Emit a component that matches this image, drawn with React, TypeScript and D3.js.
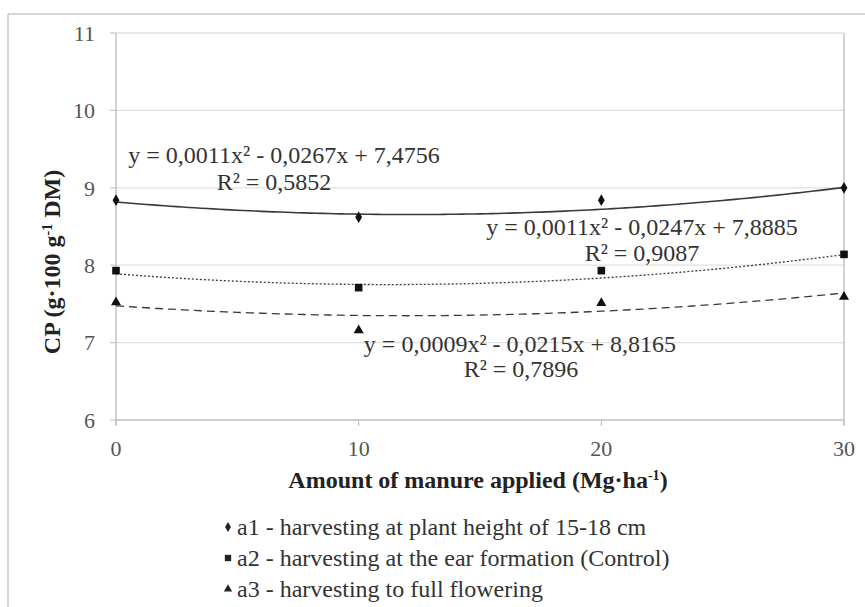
import React from "react";
import * as d3 from "d3";

const doses = [0, 10, 20, 30];
const a1Values = [8.84, 8.62, 8.84, 9.0];
const a2Values = [7.93, 7.71, 7.93, 8.14];
const a3Values = [7.52, 7.16, 7.51, 7.59];
// quadratic trend coefficients [a, b, c] for y = a x^2 + b x + c
const a1Trend = [0.0011, -0.0267, 8.8165];
const a2Trend = [0.0011, -0.0247, 7.8885];
const a3Trend = [0.0009, -0.0215, 7.4756];
const yTicks = [6, 7, 8, 9, 10, 11];
const xTicks = [0, 10, 20, 30];
const eqLabels = [
  ["y = 0,0011x² - 0,0267x + 7,4756", "R² = 0,5852"],
  ["y = 0,0011x² - 0,0247x + 7,8885", "R² = 0,9087"],
  ["y = 0,0009x² - 0,0215x + 8,8165", "R² = 0,7896"],
];
const legendLabels = [
  "a1 - harvesting at plant height of 15-18 cm",
  "a2 - harvesting at the ear formation (Control)",
  "a3 - harvesting to full flowering",
];

const W = 865;
const H = 607;
const L = 116, R = 844, T = 33, B = 420;
const FONT = "Liberation Serif";

export default function App() {
  const x = d3.scaleLinear().domain([0, 30]).range([L, R]);
  const y = d3.scaleLinear().domain([6, 11]).range([B, T]);

  const trendPts = d3.range(0, 30.001, 0.25);
  const trendPath = (c: number[]) =>
    d3
      .line<number>()
      .x((d) => x(d))
      .y((d) => y(c[0] * d * d + c[1] * d + c[2]))
      .curve(d3.curveLinear)(trendPts) as string;

  const diamond = d3.symbol().type(d3.symbolDiamond).size(40)() as string;
  const square = d3.symbol().type(d3.symbolSquare).size(58)() as string;
  const triangle = d3.symbol().type(d3.symbolTriangle).size(44)() as string;
  const diamondS = d3.symbol().type(d3.symbolDiamond).size(30)() as string;
  const squareS = d3.symbol().type(d3.symbolSquare).size(40)() as string;
  const triangleS = d3.symbol().type(d3.symbolTriangle).size(30)() as string;

  const series = [
    { vals: a1Values, trend: a1Trend, sym: diamond, symS: diamondS, dash: undefined, width: 1.6 },
    { vals: a2Values, trend: a2Trend, sym: square, symS: squareS, dash: "2,2", width: 1.3 },
    { vals: a3Values, trend: a3Trend, sym: triangle, symS: triangleS, dash: "8,5", width: 1.3 },
  ];

  const eqPos = [
    { x: 284, y: 155, rx: 274, ry: 182 },
    { x: 642, y: 227, rx: 642, ry: 253 },
    { x: 520, y: 344, rx: 521, ry: 369 },
  ];

  return (
    <svg
      width={W}
      height={H}
      style={{ position: "absolute", left: 0, top: 0, background: "#fff", fontFamily: FONT }}
    >
      {/* outer frame */}
      <line x1={8} x2={W} y1={14} y2={14} stroke="#c8c8c8" strokeWidth={1.5} />
      <line x1={8} x2={8} y1={14} y2={H} stroke="#c8c8c8" strokeWidth={1.5} />

      {/* grid */}
      {yTicks.map((t) => (
        <g key={"g" + t}>
          <line x1={L} x2={R} y1={y(t)} y2={y(t)} stroke="#e0e0e0" strokeWidth={1.3} />
          <line x1={L - 6} x2={L} y1={y(t)} y2={y(t)} stroke="#c8c8c8" strokeWidth={1.2} />
          <text x={95} y={y(t)} dy="0.35em" textAnchor="end" fontSize={22} fill="#555">
            {t}
          </text>
        </g>
      ))}
      <line x1={L} x2={L} y1={T} y2={B + 6} stroke="#c4c4c4" strokeWidth={1.5} />
      <line x1={R} x2={R} y1={T} y2={B + 6} stroke="#c4c4c4" strokeWidth={1.5} />
      <line x1={L} x2={R} y1={B} y2={B} stroke="#c4c4c4" strokeWidth={1.5} />
      {xTicks.map((t) => (
        <g key={"x" + t}>
          <line x1={x(t)} x2={x(t)} y1={B} y2={B + 6} stroke="#c4c4c4" strokeWidth={1.2} />
          <text x={x(t)} y={448} dy="0.35em" textAnchor="middle" fontSize={22} fill="#555">
            {t}
          </text>
        </g>
      ))}

      {/* trend lines */}
      {series.map((s, i) => (
        <path
          key={"t" + i}
          d={trendPath(s.trend)}
          fill="none"
          stroke="#3a3a3a"
          strokeWidth={s.width}
          strokeDasharray={s.dash}
        />
      ))}

      {/* points */}
      {series.map((s, i) =>
        s.vals.map((v, j) => (
          <path
            key={"p" + i + "-" + j}
            d={s.sym}
            transform={`translate(${x(doses[j])},${y(v)})`}
            fill="#111"
          />
        ))
      )}

      {/* equations */}
      {eqLabels.map((e, i) => (
        <g key={"e" + i} fontSize={24} fill="#333">
          <text x={eqPos[i].x} y={eqPos[i].y} dy="0.35em" textAnchor="middle">
            {e[0]}
          </text>
          <text x={eqPos[i].rx} y={eqPos[i].ry} dy="0.35em" textAnchor="middle">
            {e[1]}
          </text>
        </g>
      ))}

      {/* axis titles */}
      <text x={478} y={480} dy="0.35em" textAnchor="middle" fontSize={24} fontWeight="bold" fill="#222">
        Amount of manure applied (Mg·ha
        <tspan dy="-8" fontSize={14}>-1</tspan>
        <tspan dy="8">)</tspan>
      </text>
      <text
        transform={`translate(52,262) rotate(-90)`}
        textAnchor="middle"
        dy="0.35em"
        fontSize={24}
        fontWeight="bold"
        fill="#222"
      >
        CP (g·100 g
        <tspan dy="-8" fontSize={14}>-1</tspan>
        <tspan dy="8"> DM)</tspan>
      </text>

      {/* legend */}
      {legendLabels.map((lab, i) => {
        const ly = 527 + i * 31;
        return (
          <g key={"l" + i}>
            <path d={series[i].symS} transform={`translate(228,${ly})`} fill="#222" />
            <text x={237} y={ly} dy="0.35em" fontSize={24} fill="#333">
              {lab}
            </text>
          </g>
        );
      })}
    </svg>
  );
}
